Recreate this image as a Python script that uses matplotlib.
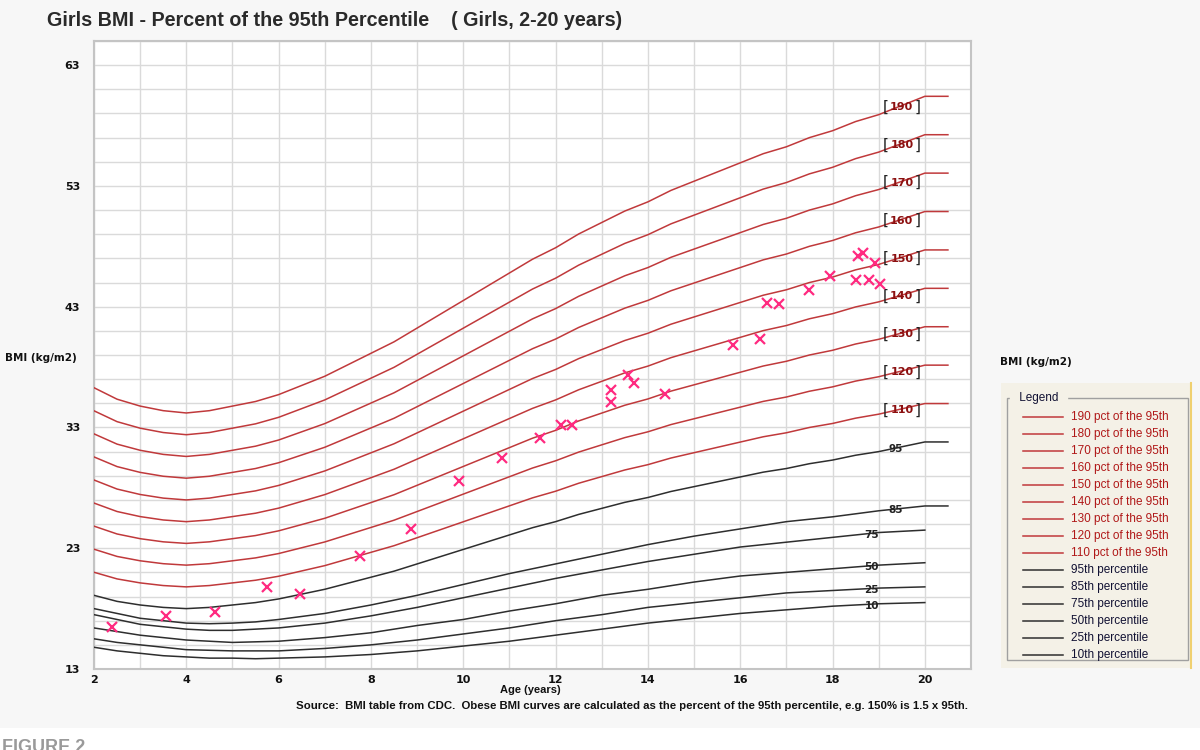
import numpy as np
import matplotlib
matplotlib.use("Agg")
import matplotlib.pyplot as plt
from matplotlib.patches import Rectangle

# ---------------- data ----------------
ages = [2.0, 2.5, 3.0, 3.5, 4.0, 4.5, 5.0, 5.5, 6.0, 6.5, 7.0, 7.5, 8.0, 8.5, 9.0,
        9.5, 10.0, 10.5, 11.0, 11.5, 12.0, 12.5, 13.0, 13.5, 14.0, 14.5, 15.0, 15.5,
        16.0, 16.5, 17.0, 17.5, 18.0, 18.5, 19.0, 19.5, 20.0]
ages_ext = ages + [20.5]

p95 = [19.1, 18.6, 18.3, 18.1, 18.0, 18.1, 18.3, 18.5, 18.8, 19.2, 19.6, 20.1, 20.6,
       21.1, 21.7, 22.3, 22.9, 23.5, 24.1, 24.7, 25.2, 25.8, 26.3, 26.8, 27.2, 27.7,
       28.1, 28.5, 28.9, 29.3, 29.6, 30.0, 30.3, 30.7, 31.0, 31.4, 31.8, 31.8]
p85 = [18.0, 17.6, 17.2, 17.0, 16.8, 16.75, 16.8, 16.9, 17.1, 17.35, 17.6, 17.95, 18.3,
       18.7, 19.1, 19.55, 20.0, 20.45, 20.9, 21.3, 21.7, 22.1, 22.5, 22.9, 23.3, 23.65,
       24.0, 24.3, 24.6, 24.9, 25.2, 25.4, 25.6, 25.85, 26.1, 26.3, 26.5, 26.5]
p75 = [17.5, 17.1, 16.7, 16.5, 16.3, 16.2, 16.2, 16.3, 16.4, 16.6, 16.8, 17.1, 17.4,
       17.75, 18.1, 18.5, 18.9, 19.3, 19.7, 20.1, 20.5, 20.85, 21.2, 21.55, 21.9, 22.2,
       22.5, 22.8, 23.1, 23.3, 23.5, 23.7, 23.9, 24.1, 24.3, 24.4, 24.5]
p50 = [16.4, 16.1, 15.8, 15.6, 15.4, 15.3, 15.2, 15.25, 15.3, 15.45, 15.6, 15.8, 16.0,
       16.3, 16.6, 16.85, 17.1, 17.45, 17.8, 18.1, 18.4, 18.75, 19.1, 19.35, 19.6, 19.9,
       20.2, 20.45, 20.7, 20.85, 21.0, 21.15, 21.3, 21.45, 21.6, 21.7, 21.8]
p25 = [15.5, 15.2, 15.0, 14.8, 14.6, 14.55, 14.5, 14.5, 14.5, 14.6, 14.7, 14.85, 15.0,
       15.2, 15.4, 15.65, 15.9, 16.15, 16.4, 16.7, 17.0, 17.25, 17.5, 17.8, 18.1, 18.3,
       18.5, 18.7, 18.9, 19.1, 19.3, 19.4, 19.5, 19.6, 19.7, 19.75, 19.8]
p10 = [14.8, 14.5, 14.3, 14.1, 14.0, 13.9, 13.9, 13.85, 13.9, 13.95, 14.0, 14.1, 14.2,
       14.35, 14.5, 14.7, 14.9, 15.1, 15.3, 15.55, 15.8, 16.05, 16.3, 16.55, 16.8, 17.0,
       17.2, 17.4, 17.6, 17.75, 17.9, 18.05, 18.2, 18.3, 18.4, 18.45, 18.5]

obese_pcts = [190, 180, 170, 160, 150, 140, 130, 120, 110]
pct_names = ["95", "85", "75", "50", "25", "10"]

pt_age = [2.38, 3.57, 4.62, 5.74, 6.46, 7.76, 8.86, 9.90, 10.83, 11.66, 12.11, 12.35,
          13.20, 13.19, 13.57, 13.69, 14.36, 15.84, 16.42, 16.58, 16.84, 17.50, 17.95,
          18.55, 18.65, 18.93, 18.50, 18.79, 19.02]
pt_bmi = [16.47, 17.35, 17.71, 19.83, 19.22, 22.36, 24.60, 28.56, 30.46, 32.11, 33.19,
          33.19, 36.14, 35.12, 37.32, 36.69, 35.75, 39.80, 40.36, 43.33, 43.25, 44.35,
          45.53, 47.16, 47.43, 46.60, 45.17, 45.17, 44.84]

x_ticks = [2, 4, 6, 8, 10, 12, 14, 16, 18, 20]
y_ticks = [13, 23, 33, 43, 53, 63]

# ---------------- style ----------------
RED = "#c0393b"
RED_TXT = "#b01818"
DARKRED = "#8b1010"
BLACK = "#2e2e2e"
PINK = "#ff2a80"
W, H = 1200, 750
FONT = "Liberation Sans"

fig = plt.figure(figsize=(12, 7.5), dpi=100, facecolor="#f7f7f7")

# bottom white strip with cut "FIGURE 2"
fig.patches.append(Rectangle((0, 0), 1, 1 - 728 / H, transform=fig.transFigure,
                             facecolor="white", edgecolor="none", zorder=-5))
fig.text(2 / W, 1 - 739 / H, "FIGURE 2", ha="left", va="top", fontsize=13,
         fontweight="bold", color="#9a9a9a", family=FONT)

# legend panel background (behind everything)
fig.patches.append(Rectangle((1001 / W, 1 - 668 / H), 190 / W, 285 / H, transform=fig.transFigure,
                             facecolor="#f4f1e7", edgecolor="none", zorder=-5))
fig.add_artist(plt.Line2D([1191 / W, 1191 / W], [1 - 668 / H, 1 - 383 / H],
                          transform=fig.transFigure, color="#f0d070", lw=1.5, zorder=-4))

ax = fig.add_axes([94 / W, 1 - 669 / H, (971 - 94) / W, (669 - 41) / H])
ax.set_facecolor("white")
ax.set_xlim(2, 21)
ax.set_ylim(13, 65)
ax.set_xticks(x_ticks)
ax.set_xticks(np.arange(2, 22, 1), minor=True)
ax.set_yticks(y_ticks)
ax.set_yticks(np.arange(13, 66, 2), minor=True)
ax.grid(which="both", color="#dadada", lw=1.0, zorder=0)
ax.set_axisbelow(True)
ax.tick_params(which="both", length=0)
ax.tick_params(axis="x", pad=4)
ax.tick_params(axis="y", pad=10)
for lab in ax.get_xticklabels() + ax.get_yticklabels():
    lab.set_fontsize(8)
    lab.set_fontweight("bold")
    lab.set_family("DejaVu Sans")
    lab.set_color("#111111")
for s in ax.spines.values():
    s.set_color("#c4c4c4")
    s.set_linewidth(1.5)

# obese curves
p95_arr = np.array(p95)
for pct in obese_pcts:
    yv = p95_arr * pct / 100.0
    ax.plot(ages_ext, yv, color=RED, lw=1.1, zorder=3)
    ly = np.interp(19.5, ages_ext, yv)
    ax.annotate(str(pct), (19.5, ly), xytext=(0, -1), textcoords="offset points",
                ha="center", va="center", fontsize=8, fontweight="bold",
                color=DARKRED, family="DejaVu Sans", zorder=5)
    for dx, b in ((-11.5, "["), (11.5, "]")):
        ax.annotate(b, (19.5, ly), xytext=(dx, -1), textcoords="offset points",
                    ha="center", va="center", fontsize=11, color="#222222",
                    family="DejaVu Sans", zorder=5)

# percentile curves
curves = [(ages_ext, p95), (ages_ext, p85), (ages, p75), (ages, p50), (ages, p25), (ages, p10)]
label_x = [19.37, 19.37, 18.85, 18.85, 18.85, 18.85]
for (xa, ya), name, lx in zip(curves, pct_names, label_x):
    ax.plot(xa, ya, color=BLACK, lw=1.1, zorder=3)
    ly = np.interp(lx, xa, ya)
    ax.annotate(name, (lx, ly), xytext=(0, -1), textcoords="offset points",
                ha="center", va="center", fontsize=7.5, fontweight="bold",
                color="#222222", family="DejaVu Sans", zorder=5)

# data points
ax.plot(pt_age, pt_bmi, linestyle="none", marker="x", color=PINK, ms=7, mew=1.6, zorder=6)

# texts
fig.text(47 / W, 1 - 20 / H, "Girls BMI - Percent of the 95th Percentile    ( Girls, 2-20 years)",
         ha="left", va="center", fontsize=14.2, fontweight="bold", color="#2a2a2a", family=FONT)
fig.text(5 / W, 1 - 358 / H, "BMI (kg/m2)", ha="left", va="center", fontsize=7.5,
         fontweight="bold", color="#111111", family="DejaVu Sans")
fig.text(1000 / W, 1 - 362 / H, "BMI (kg/m2)", ha="left", va="center", fontsize=7.5,
         fontweight="bold", color="#111111", family="DejaVu Sans")
fig.text(530 / W, 1 - 690 / H, "Age (years)", ha="center", va="center", fontsize=8,
         fontweight="bold", color="#111111", family=FONT)
fig.text(296 / W, 1 - 706 / H,
         "Source:  BMI table from CDC.  Obese BMI curves are calculated as the percent of the 95th percentile, e.g. 150% is 1.5 x 95th.",
         ha="left", va="center", fontsize=8.2, fontweight="bold", color="#111111", family=FONT)

# legend group box
lg = fig.add_axes([1007 / W, 1 - 660 / H, 181 / W, 262 / H])
lg.set_zorder(2)
lg.set_xlim(1007, 1188)
lg.set_ylim(660, 398)
lg.axis("off")
lg.add_patch(Rectangle((1007, 398), 181, 262, facecolor="none", edgecolor="#a0a0a0",
                       lw=1.0, clip_on=False))
lg.text(1016, 398, " Legend ", ha="left", va="center", fontsize=8.5, color="#111133",
        family=FONT, backgroundcolor="#f4f1e7", clip_on=False)
legend_labels = [f"{p} pct of the 95th" for p in obese_pcts] + [f"{n}th percentile" for n in pct_names]
for i, lab in enumerate(legend_labels):
    yy = 417 + 17 * i
    red = i < len(obese_pcts)
    lg.plot([1023, 1063], [yy, yy], color=RED if red else BLACK, lw=1.1, clip_on=False)
    lg.text(1071, yy, lab, ha="left", va="center", fontsize=8.5,
            color=RED_TXT if red else "#111133", family=FONT, clip_on=False)

fig.savefig("out.png", dpi=100, facecolor=fig.get_facecolor())
